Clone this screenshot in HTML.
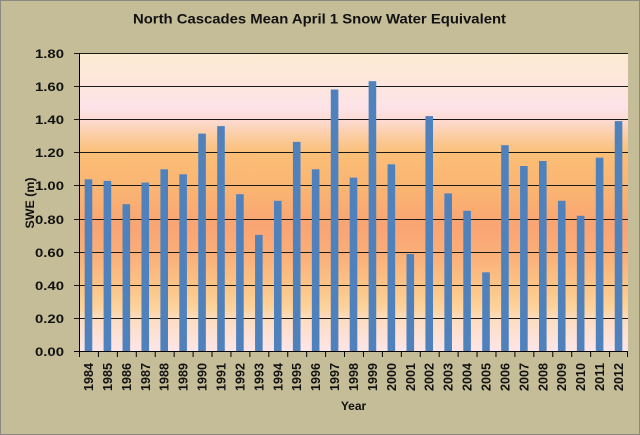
<!DOCTYPE html>
<html>
<head>
<meta charset="utf-8">
<style>
html,body{margin:0;padding:0;background:#c4bd97;}
svg{display:block;}
text{font-family:"Liberation Sans",Arial,sans-serif;font-weight:bold;fill:#111;}
</style>
</head>
<body>
<svg width="640" height="435" viewBox="0 0 640 435" xmlns="http://www.w3.org/2000/svg">
<defs>
<linearGradient id="bg" x1="0" y1="0" x2="0" y2="1">
<stop offset="0" stop-color="#fdebd2"/>
<stop offset="0.11" stop-color="#fde6de"/>
<stop offset="0.18" stop-color="#fde3e8"/>
<stop offset="0.22" stop-color="#fddcd6"/>
<stop offset="0.30" stop-color="#fbc78f"/>
<stop offset="0.34" stop-color="#fbbe76"/>
<stop offset="0.46" stop-color="#fab472"/>
<stop offset="0.58" stop-color="#f9a473"/>
<stop offset="0.67" stop-color="#faae78"/>
<stop offset="0.78" stop-color="#fcc486"/>
<stop offset="0.85" stop-color="#fdd29a"/>
<stop offset="0.89" stop-color="#fddcc0"/>
<stop offset="1" stop-color="#fde6ea"/>
</linearGradient>
</defs>
<rect x="0" y="0" width="640" height="435" fill="#c4bd97"/>
<rect x="0.5" y="0.5" width="639" height="434" fill="none" stroke="#8a8a80" stroke-width="1"/>

<text x="133" y="23.5" font-size="14" textLength="373" lengthAdjust="spacingAndGlyphs">North Cascades Mean April 1 Snow Water Equivalent</text>

<!-- plot area -->
<rect x="79" y="53" width="549" height="299" fill="url(#bg)"/>

<!-- gridlines -->
<g stroke="#1a1a1a" stroke-width="1">
<line x1="74" y1="53.5" x2="628" y2="53.5"/>
<line x1="74" y1="86.5" x2="628" y2="86.5"/>
<line x1="74" y1="119.5" x2="628" y2="119.5"/>
<line x1="74" y1="152.5" x2="628" y2="152.5"/>
<line x1="74" y1="185.5" x2="628" y2="185.5"/>
<line x1="74" y1="219.5" x2="628" y2="219.5"/>
<line x1="74" y1="252.5" x2="628" y2="252.5"/>
<line x1="74" y1="285.5" x2="628" y2="285.5"/>
<line x1="74" y1="318.5" x2="628" y2="318.5"/>
</g>

<!-- bars -->
<g fill="#4f81bd">
<rect x="84.67" y="179.3" width="7.6" height="172.7"/>
<rect x="103.60" y="180.9" width="7.6" height="171.1"/>
<rect x="122.53" y="204.2" width="7.6" height="147.8"/>
<rect x="141.46" y="182.6" width="7.6" height="169.4"/>
<rect x="160.39" y="169.3" width="7.6" height="182.7"/>
<rect x="179.32" y="174.3" width="7.6" height="177.7"/>
<rect x="198.25" y="133.6" width="7.6" height="218.4"/>
<rect x="217.18" y="126.1" width="7.6" height="225.9"/>
<rect x="236.11" y="194.2" width="7.6" height="157.8"/>
<rect x="255.05" y="234.9" width="7.6" height="117.1"/>
<rect x="273.98" y="200.8" width="7.6" height="151.2"/>
<rect x="292.91" y="141.9" width="7.6" height="210.1"/>
<rect x="311.84" y="169.3" width="7.6" height="182.7"/>
<rect x="330.77" y="89.5" width="7.6" height="262.5"/>
<rect x="349.70" y="177.6" width="7.6" height="174.4"/>
<rect x="368.63" y="81.2" width="7.6" height="270.8"/>
<rect x="387.56" y="164.3" width="7.6" height="187.7"/>
<rect x="406.49" y="254.0" width="7.6" height="98.0"/>
<rect x="425.42" y="116.1" width="7.6" height="235.9"/>
<rect x="444.36" y="193.4" width="7.6" height="158.6"/>
<rect x="463.29" y="210.8" width="7.6" height="141.2"/>
<rect x="482.22" y="272.3" width="7.6" height="79.7"/>
<rect x="501.15" y="145.2" width="7.6" height="206.8"/>
<rect x="520.08" y="166.0" width="7.6" height="186.0"/>
<rect x="539.01" y="161.0" width="7.6" height="191.0"/>
<rect x="557.94" y="200.8" width="7.6" height="151.2"/>
<rect x="576.87" y="215.8" width="7.6" height="136.2"/>
<rect x="595.80" y="157.7" width="7.6" height="194.3"/>
<rect x="614.73" y="121.1" width="7.6" height="230.9"/>
</g>

<!-- axes -->
<g stroke="#000" stroke-width="1">
<line x1="79.5" y1="53" x2="79.5" y2="352"/>
<line x1="74" y1="351.5" x2="628" y2="351.5"/>
<line x1="79.5" y1="352" x2="79.5" y2="357"/>
<line x1="98.43" y1="352" x2="98.43" y2="357"/>
<line x1="117.36" y1="352" x2="117.36" y2="357"/>
<line x1="136.29" y1="352" x2="136.29" y2="357"/>
<line x1="155.22" y1="352" x2="155.22" y2="357"/>
<line x1="174.16" y1="352" x2="174.16" y2="357"/>
<line x1="193.09" y1="352" x2="193.09" y2="357"/>
<line x1="212.02" y1="352" x2="212.02" y2="357"/>
<line x1="230.95" y1="352" x2="230.95" y2="357"/>
<line x1="249.88" y1="352" x2="249.88" y2="357"/>
<line x1="268.81" y1="352" x2="268.81" y2="357"/>
<line x1="287.74" y1="352" x2="287.74" y2="357"/>
<line x1="306.67" y1="352" x2="306.67" y2="357"/>
<line x1="325.60" y1="352" x2="325.60" y2="357"/>
<line x1="344.53" y1="352" x2="344.53" y2="357"/>
<line x1="363.47" y1="352" x2="363.47" y2="357"/>
<line x1="382.40" y1="352" x2="382.40" y2="357"/>
<line x1="401.33" y1="352" x2="401.33" y2="357"/>
<line x1="420.26" y1="352" x2="420.26" y2="357"/>
<line x1="439.19" y1="352" x2="439.19" y2="357"/>
<line x1="458.12" y1="352" x2="458.12" y2="357"/>
<line x1="477.05" y1="352" x2="477.05" y2="357"/>
<line x1="495.98" y1="352" x2="495.98" y2="357"/>
<line x1="514.91" y1="352" x2="514.91" y2="357"/>
<line x1="533.84" y1="352" x2="533.84" y2="357"/>
<line x1="552.78" y1="352" x2="552.78" y2="357"/>
<line x1="571.71" y1="352" x2="571.71" y2="357"/>
<line x1="590.64" y1="352" x2="590.64" y2="357"/>
<line x1="609.57" y1="352" x2="609.57" y2="357"/>
<line x1="627.5" y1="352" x2="627.5" y2="357"/>
</g>

<!-- y tick labels -->
<g font-size="12" text-anchor="end">
<text x="64" y="58" textLength="29" lengthAdjust="spacingAndGlyphs">1.80</text>
<text x="64" y="91" textLength="29" lengthAdjust="spacingAndGlyphs">1.60</text>
<text x="64" y="124" textLength="29" lengthAdjust="spacingAndGlyphs">1.40</text>
<text x="64" y="157" textLength="29" lengthAdjust="spacingAndGlyphs">1.20</text>
<text x="64" y="190" textLength="29" lengthAdjust="spacingAndGlyphs">1.00</text>
<text x="64" y="224" textLength="29" lengthAdjust="spacingAndGlyphs">0.80</text>
<text x="64" y="257" textLength="29" lengthAdjust="spacingAndGlyphs">0.60</text>
<text x="64" y="290" textLength="29" lengthAdjust="spacingAndGlyphs">0.40</text>
<text x="64" y="323" textLength="29" lengthAdjust="spacingAndGlyphs">0.20</text>
<text x="64" y="356" textLength="29" lengthAdjust="spacingAndGlyphs">0.00</text>
</g>

<!-- x tick labels -->
<g font-size="12.5" text-anchor="end">
<text transform="translate(93,363) rotate(-90)" textLength="28" lengthAdjust="spacingAndGlyphs">1984</text>
<text transform="translate(111.9,363) rotate(-90)" textLength="28" lengthAdjust="spacingAndGlyphs">1985</text>
<text transform="translate(130.8,363) rotate(-90)" textLength="28" lengthAdjust="spacingAndGlyphs">1986</text>
<text transform="translate(149.8,363) rotate(-90)" textLength="28" lengthAdjust="spacingAndGlyphs">1987</text>
<text transform="translate(168.7,363) rotate(-90)" textLength="28" lengthAdjust="spacingAndGlyphs">1988</text>
<text transform="translate(187.6,363) rotate(-90)" textLength="28" lengthAdjust="spacingAndGlyphs">1989</text>
<text transform="translate(206.6,363) rotate(-90)" textLength="28" lengthAdjust="spacingAndGlyphs">1990</text>
<text transform="translate(225.5,363) rotate(-90)" textLength="28" lengthAdjust="spacingAndGlyphs">1991</text>
<text transform="translate(244.4,363) rotate(-90)" textLength="28" lengthAdjust="spacingAndGlyphs">1992</text>
<text transform="translate(263.3,363) rotate(-90)" textLength="28" lengthAdjust="spacingAndGlyphs">1993</text>
<text transform="translate(282.3,363) rotate(-90)" textLength="28" lengthAdjust="spacingAndGlyphs">1994</text>
<text transform="translate(301.2,363) rotate(-90)" textLength="28" lengthAdjust="spacingAndGlyphs">1995</text>
<text transform="translate(320.1,363) rotate(-90)" textLength="28" lengthAdjust="spacingAndGlyphs">1996</text>
<text transform="translate(339.1,363) rotate(-90)" textLength="28" lengthAdjust="spacingAndGlyphs">1997</text>
<text transform="translate(358.0,363) rotate(-90)" textLength="28" lengthAdjust="spacingAndGlyphs">1998</text>
<text transform="translate(376.9,363) rotate(-90)" textLength="28" lengthAdjust="spacingAndGlyphs">1999</text>
<text transform="translate(395.9,363) rotate(-90)" textLength="28" lengthAdjust="spacingAndGlyphs">2000</text>
<text transform="translate(414.8,363) rotate(-90)" textLength="28" lengthAdjust="spacingAndGlyphs">2001</text>
<text transform="translate(433.7,363) rotate(-90)" textLength="28" lengthAdjust="spacingAndGlyphs">2002</text>
<text transform="translate(452.7,363) rotate(-90)" textLength="28" lengthAdjust="spacingAndGlyphs">2003</text>
<text transform="translate(471.6,363) rotate(-90)" textLength="28" lengthAdjust="spacingAndGlyphs">2004</text>
<text transform="translate(490.5,363) rotate(-90)" textLength="28" lengthAdjust="spacingAndGlyphs">2005</text>
<text transform="translate(509.5,363) rotate(-90)" textLength="28" lengthAdjust="spacingAndGlyphs">2006</text>
<text transform="translate(528.4,363) rotate(-90)" textLength="28" lengthAdjust="spacingAndGlyphs">2007</text>
<text transform="translate(547.3,363) rotate(-90)" textLength="28" lengthAdjust="spacingAndGlyphs">2008</text>
<text transform="translate(566.2,363) rotate(-90)" textLength="28" lengthAdjust="spacingAndGlyphs">2009</text>
<text transform="translate(585.2,363) rotate(-90)" textLength="28" lengthAdjust="spacingAndGlyphs">2010</text>
<text transform="translate(604.1,363) rotate(-90)" textLength="28" lengthAdjust="spacingAndGlyphs">2011</text>
<text transform="translate(623.0,363) rotate(-90)" textLength="28" lengthAdjust="spacingAndGlyphs">2012</text>
</g>

<!-- axis titles -->
<text x="353.5" y="410" font-size="12" text-anchor="middle">Year</text>
<text transform="translate(34,203) rotate(-90)" font-size="12" text-anchor="middle" textLength="51" lengthAdjust="spacingAndGlyphs">SWE (m)</text>
</svg>
</body>
</html>
